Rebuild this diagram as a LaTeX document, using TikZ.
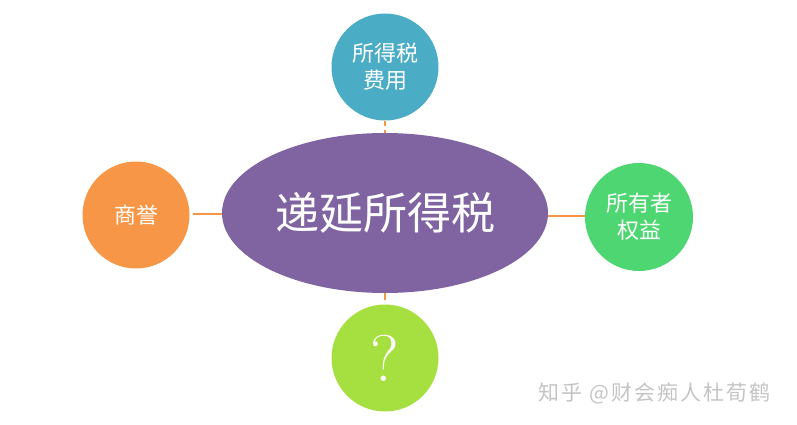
\documentclass[tikz,border=0pt]{standalone}
\usepackage{fontspec}
\usetikzlibrary{shapes.geometric}
\newfontfamily\cjk{Noto Sans CJK SC}
\definecolor{cAqua}{HTML}{4BACC6}
\definecolor{cOrange}{HTML}{F79646}
\definecolor{cGreen}{HTML}{4ED672}
\definecolor{cLime}{HTML}{A6E040}
\definecolor{cPurple}{HTML}{8064A2}
\definecolor{cMark}{HTML}{C4C4C4}
\begin{document}
\begin{tikzpicture}[x=1pt,y=-1pt,
  bubble/.style={circle,minimum size=107pt,inner sep=0pt,text=white,align=center,font=\cjk\fontsize{22}{27}\selectfont},
  link/.style={draw=cOrange,line width=2.4pt}]
\useasboundingbox (0,0) rectangle (797,425);
\node[ellipse,fill=cPurple,minimum width=326pt,minimum height=160pt,inner sep=0pt,text=white,font=\cjk\fontsize{44}{50}\selectfont] (c) at (385,213) {递延所得税};
\node[bubble,fill=cAqua] (t) at (385,67) {所得税\\费用};
\node[bubble,fill=cOrange] (l) at (136,215) {商誉};
\node[bubble,fill=cGreen,minimum size=108pt] (r) at (639,217) {所有者\\权益};
\node[bubble,fill=cLime,font=\normalfont\fontsize{66}{70}\selectfont] (b) at (385,358) {?};
\draw[link] (t.south) -- ++(0,5);
\draw[link] (c.north) -- ++(0,-3);
\draw[link] (l.east) ++(3,-1) coordinate (le) -- (c.west |- le);
\draw[link] (c.east) ++(0,3) coordinate (ce) -- (r.west |- ce);
\draw[link] (c.south) -- ++(0,7);
\node[text=cMark,font=\cjk\fontsize{21}{24}\selectfont,anchor=west,inner sep=0pt] (w) at (538,393) {知\kern2pt 乎\kern2pt\ \kern1pt @\kern2pt 财\kern2pt 会\kern2pt 痴\kern2pt 人\kern2pt 杜\kern2pt 荀\kern2pt 鹤};
\end{tikzpicture}
\end{document}
